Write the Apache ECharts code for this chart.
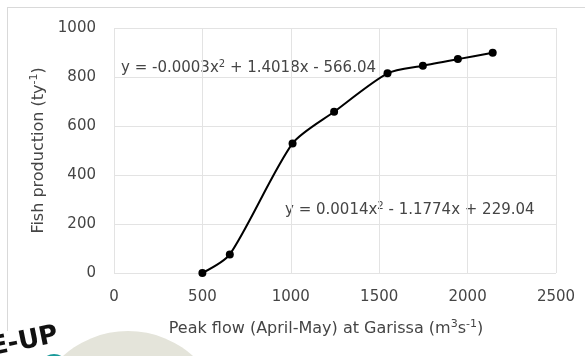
<!DOCTYPE html>
<html>
<head>
<meta charset="utf-8">
<script src="https://cdn.jsdelivr.net/npm/echarts@6/dist/echarts.min.js"></script>
<style>html,body{margin:0;padding:0;background:#fff;}#c{width:585px;height:356px;}</style>
</head>
<body>
<div id="c"></div>
<script>
var peakFlow = [500, 655, 1010, 1245, 1547, 1747, 1945, 2142];
var fishProduction = [0, 76, 529, 658, 815, 846, 873, 899];
var xTicks = [0, 500, 1000, 1500, 2000, 2500];
var yTicks = [0, 200, 400, 600, 800, 1000];
var eqUpper = 'y = -0.0003x{s|2} + 1.4018x - 566.04';
var eqLower = 'y = 0.0014x{s|2} - 1.1774x + 229.04';
var xTitle = 'Peak flow (April-May) at Garissa (m{s|3}s{s|-1})';
var yTitle = 'Fish production (ty{s|-1})';

var FONT = '"DejaVu Sans", sans-serif';
var TXT = '#454545';
function richSup(size) {
  return {
    s: {fontSize: Math.round(size * 0.66), fontFamily: FONT, color: TXT, padding: [0, 0, Math.round(size * 0.55), 0]}
  };
}
var chart = echarts.init(document.getElementById('c'));
chart.setOption({
  animation: false,
  backgroundColor: '#fff',
  grid: {left: 114, right: 29, top: 28, bottom: 83},
  xAxis: {
    type: 'value', min: xTicks[0], max: xTicks[xTicks.length - 1], interval: xTicks[1] - xTicks[0],
    name: xTitle, nameLocation: 'middle', nameGap: 46,
    nameTextStyle: {color: TXT, fontSize: 16, fontFamily: FONT, rich: richSup(16), padding: [0, 18, 0, 0]},
    axisLine: {show: false}, axisTick: {show: false},
    axisLabel: {color: TXT, fontSize: 15, fontFamily: FONT, margin: 17, formatter: function (v) { return String(v); }},
    splitLine: {show: true, lineStyle: {color: '#e3e3e3', width: 1}}
  },
  yAxis: {
    type: 'value', min: yTicks[0], max: yTicks[yTicks.length - 1], interval: yTicks[1] - yTicks[0],
    name: yTitle, nameLocation: 'middle', nameGap: 63, nameRotate: 90,
    nameTextStyle: {color: TXT, fontSize: 16, fontFamily: FONT, rich: richSup(16)},
    axisLine: {show: false}, axisTick: {show: false},
    axisLabel: {color: TXT, fontSize: 15, fontFamily: FONT, margin: 18, formatter: function (v) { return String(v); }},
    splitLine: {show: true, lineStyle: {color: '#e3e3e3', width: 1}}
  },
  series: [{
    type: 'line',
    data: peakFlow.map(function (x, i) { return [x, fishProduction[i]]; }),
    smooth: 0.25,
    symbol: 'circle', symbolSize: 8,
    itemStyle: {color: '#000'},
    lineStyle: {color: '#000', width: 2},
    z: 5
  }],
  graphic: [
    {type: 'line', shape: {x1: 7, y1: 7.5, x2: 585, y2: 7.5}, style: {stroke: '#d9d9d9', lineWidth: 1}},
    {type: 'line', shape: {x1: 7.5, y1: 7, x2: 7.5, y2: 331}, style: {stroke: '#d9d9d9', lineWidth: 1}},
    {type: 'text', left: 121, top: 59, style: {text: eqUpper, fill: TXT, font: '15px ' + FONT, rich: richSup(15)}},
    {type: 'text', left: 285, top: 201, style: {text: eqLower, fill: TXT, font: '15px ' + FONT, rich: richSup(15)}},
    {type: 'circle', shape: {cx: 128, cy: 428, r: 97}, style: {fill: '#e4e4da'}, z: 1},
    {type: 'circle', shape: {cx: 128, cy: 428, r: 64}, style: {fill: '#ffffff'}, z: 2},
    {type: 'circle', shape: {cx: 54, cy: 368, r: 14}, style: {fill: '#1a9a9a'}, z: 3},
    {type: 'text', x: -12, y: 336, rotation: 0.2, style: {text: 'E-UP', fill: '#111', font: 'bold 26px "DejaVu Sans", sans-serif'}, z: 4}
  ]
});
</script>
</body>
</html>
